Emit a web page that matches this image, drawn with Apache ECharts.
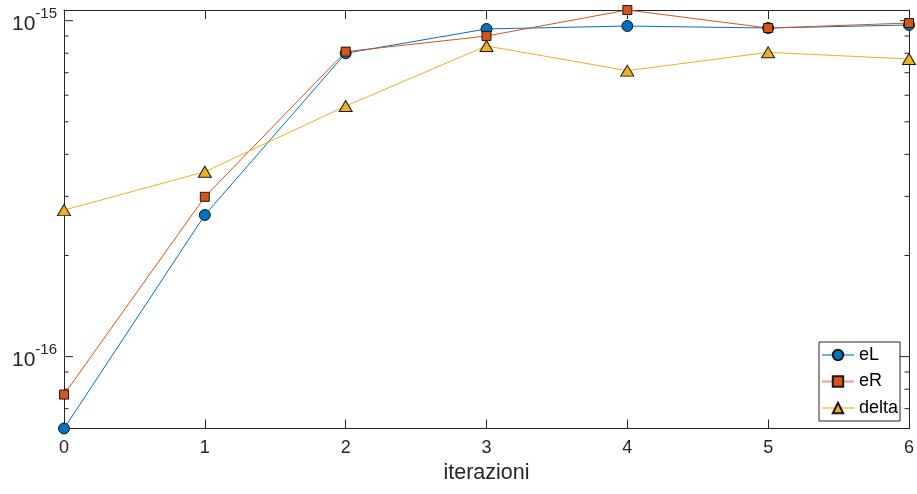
<!DOCTYPE html>
<html>
<head>
<meta charset="utf-8">
<script src="https://cdn.jsdelivr.net/npm/echarts@6/dist/echarts.min.js"></script>
<style>
  html, body { margin: 0; padding: 0; background: #fff; }
  #chart { width: 917px; height: 494px; }
</style>
</head>
<body>
<div id="chart"></div>
<script>
const iterations = [0, 1, 2, 3, 4, 5, 6];
const eL = [6.11e-17, 2.64e-16, 8.00e-16, 9.45e-16, 9.64e-16, 9.51e-16, 9.71e-16];
const eR = [7.71e-17, 2.99e-16, 8.09e-16, 9.00e-16, 1.076e-15, 9.51e-16, 9.84e-16];
const delta = [2.73e-16, 3.55e-16, 5.57e-16, 8.41e-16, 7.10e-16, 8.05e-16, 7.69e-16];
const yTicks = [7e-17, 8e-17, 9e-17, 1e-16, 2e-16, 3e-16, 4e-16, 5e-16, 6e-16, 7e-16, 8e-16, 9e-16, 1e-15];
const yMin = 6.11e-17;
const yMax = 1.076e-15;

const AX = '#262626';
const FONT = 'Liberation Sans, Arial, Helvetica, sans-serif';

function isPow10(v) {
  const l = Math.log10(v);
  return Math.abs(l - Math.round(l)) < 1e-6;
}

function pairs(arr) { return arr.map((v, i) => [iterations[i], v]); }

const chart = echarts.init(document.getElementById('chart'), null, { renderer: 'canvas' });

const lineSeries = (name, data, color, symbol, size) => ({
  name, type: 'line', data: pairs(data),
  symbol, symbolSize: size,
  showAllSymbol: true,
  lineStyle: { color, width: 1 },
  itemStyle: { color, borderColor: '#1a1a1a', borderWidth: 1 },
  emphasis: { disabled: true },
  animation: false,
  z: 3
});

chart.setOption({
  animation: false,
  backgroundColor: '#fff',
  textStyle: { fontFamily: FONT },
  grid: { left: 64, right: 6.5, top: 10, bottom: 65.5, containLabel: false },
  xAxis: [{
    type: 'value', min: 0, max: 6, interval: 1, position: 'bottom',
    name: 'iterazioni', nameLocation: 'middle', nameGap: 27,
    nameTextStyle: { fontSize: 21.5, color: '#262626', fontFamily: FONT },
    axisLine: { show: true, onZero: false, lineStyle: { color: AX, width: 1 } },
    axisTick: { show: true, inside: true, length: 9, lineStyle: { color: AX } },
    axisLabel: { fontSize: 18, color: '#262626', margin: 11, fontFamily: FONT },
    splitLine: { show: false }
  }, {
    type: 'value', min: 0, max: 6, interval: 1, position: 'top',
    axisLine: { show: true, onZero: false, lineStyle: { color: AX, width: 1 } },
    axisTick: { show: true, inside: true, length: 9, lineStyle: { color: AX } },
    axisLabel: { show: false },
    splitLine: { show: false }
  }],
  yAxis: [{
    type: 'log', logBase: 10, min: yMin, max: yMax, position: 'left',
    axisLine: { show: true, onZero: false, lineStyle: { color: AX, width: 1 } },
    axisTick: { show: false },
    splitLine: { show: false },
    minorTick: { show: false },
    axisLabel: {
      margin: 7,
      showMinLabel: false, showMaxLabel: false,
      formatter: function (v) {
        if (!isPow10(v)) return '';
        return '{b|10}{s|' + Math.round(Math.log10(v)) + '}';
      },
      rich: {
        b: { fontSize: 21, color: '#262626', fontFamily: FONT, padding: [7, 0, 0, 0] },
        s: { fontSize: 15, color: '#262626', fontFamily: FONT, verticalAlign: 'top', padding: [0, 0, 8, 0] }
      }
    }
  }, {
    type: 'log', logBase: 10, min: yMin, max: yMax, position: 'right',
    axisLine: { show: true, onZero: false, lineStyle: { color: AX, width: 1 } },
    axisTick: { show: false },
    axisLabel: { show: false },
    splitLine: { show: false }
  }],
  legend: {
    data: ['eL', 'eR', 'delta'],
    orient: 'vertical',
    left: 819, top: 342,
    padding: [4, 2, 4, 2],
    itemWidth: 32, itemHeight: 13, itemGap: 8.5,
    backgroundColor: '#fff',
    borderColor: AX, borderWidth: 1, borderRadius: 0,
    lineStyle: { opacity: 0.55 },
    textStyle: { fontSize: 18, color: '#000', fontFamily: FONT, lineHeight: 18 }
  },
  series: [
    lineSeries('eL', eL, '#0072BD', 'circle', 11),
    lineSeries('eR', eR, '#D95319', 'rect', 9),
    lineSeries('delta', delta, '#EDB120', 'triangle', [13, 11]),
    {
      type: 'custom',
      name: 'yticks',
      silent: true,
      animation: false,
      z: 2,
      clip: false,
      data: yTicks.map(v => [0, v]),
      encode: { x: 0, y: 1 },
      renderItem: function (params, api) {
        const v = api.value(1);
        const cs = params.coordSys;
        const y = api.coord([0, v])[1];
        const len = isPow10(v) ? 9 : 4.5;
        const x0 = cs.x, x1 = cs.x + cs.width;
        return {
          type: 'group',
          children: [
            { type: 'line', shape: { x1: x0, y1: y, x2: x0 + len, y2: y }, style: { stroke: AX, lineWidth: 1 } },
            { type: 'line', shape: { x1: x1 - len, y1: y, x2: x1, y2: y }, style: { stroke: AX, lineWidth: 1 } }
          ]
        };
      }
    }
  ]
});
</script>
</body>
</html>
